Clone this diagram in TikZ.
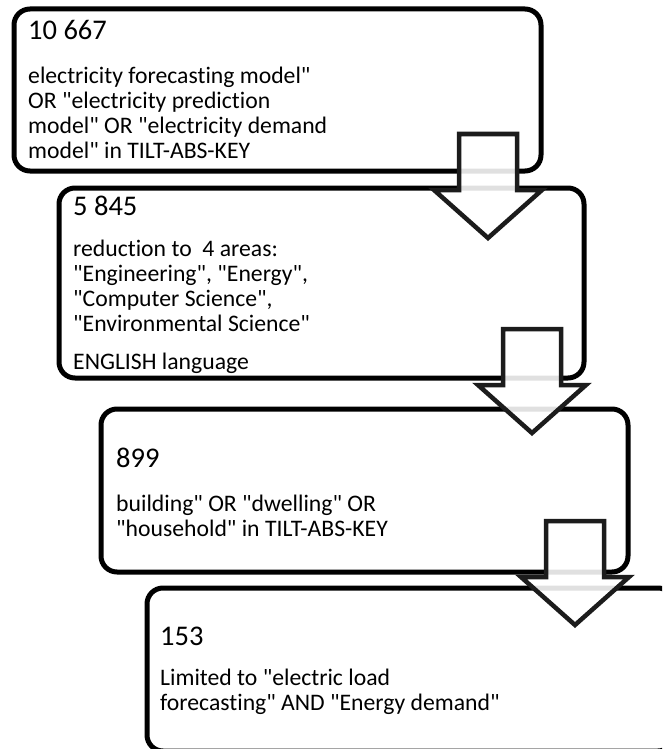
\documentclass[tikz,border=0pt]{standalone}
\usepackage{fontspec}
\setmainfont{Carlito}[Ligatures={TeXOff,NoCommon}]
\newcommand{\headfont}{\fontsize{28.5}{30}\selectfont}
\newcommand{\bodyfont}{\fontsize{23.7}{25}\selectfont}
\newcommand{\textlines}[1]{\begin{tabular}[t]{@{}l@{}}#1\end{tabular}}
\definecolor{arrowink}{HTML}{1C1C1C}
\tikzset{
  stagebox/.style={draw=black, line width=5pt, rounded corners=16pt, fill=white,
    inner sep=0pt, minimum width=527pt},
  headtext/.style={anchor=base west, inner sep=0pt, font=\headfont},
  bodytext/.style={anchor=base west, inner sep=0pt, font=\bodyfont},
  arrowline/.style={draw=arrowink, line width=4.5pt, fill=white, fill opacity=0.88,
    line join=miter, miter limit=10},
  blockarrow/.pic={
    \path[arrowline] (-29,0) -- (29,0) -- (29,56) -- (54,56) -- (0,104)
      -- (-54,56) -- (-29,56) -- cycle;
  }
}
\begin{document}
\begin{tikzpicture}[x=1pt, y=-1pt]
\useasboundingbox (0,0) rectangle (662,749);
\clip (0,0) rectangle (662,749);

% stage boxes
\node[stagebox, minimum height=162pt] (b1) at (277.5,90) {};
\node[stagebox, minimum width=525pt, minimum height=190pt] (b2) at (321.5,283) {};
\node[stagebox, minimum height=163pt] (b3) at (364.5,490.5) {};
\node[stagebox, minimum height=163pt] (b4) at (410.5,669.5) {};

% stage 1
\node[headtext] (h1) at (28,40) {10 667};
\node[bodytext] (t1) at (28,84) {\textlines{electricity forecasting model"\\
  OR "electricity prediction\\ model" OR "electricity demand\\ model" in TILT-ABS-KEY}};

% stage 2
\node[headtext] (h2) at (73,215) {5 845};
\node[bodytext] (t2) at (73,256) {\textlines{reduction to~~4 areas:\\
  "Engineering", "Energy",\\ "Computer Science",\\ "Environmental Science"}};
\node[bodytext] (t2b) at (73,369) {ENGLISH language};

% stage 3
\node[headtext] (h3) at (116,467) {899};
\node[bodytext] (t3) at (116,511) {\textlines{building" OR "dwelling" OR\\
  "household" in TILT-ABS-KEY}};

% stage 4
\node[headtext] (h4) at (160,645) {153};
\node[bodytext] (t4) at (160,685) {\textlines{Limited to "electric load\\
  forecasting" AND "Energy demand"}};

% block arrows between the stages
\pic (a1) at (488,134) {blockarrow};
\pic (a2) at (532,329) {blockarrow};
\pic (a3) at (575,521) {blockarrow};
\end{tikzpicture}
\end{document}
